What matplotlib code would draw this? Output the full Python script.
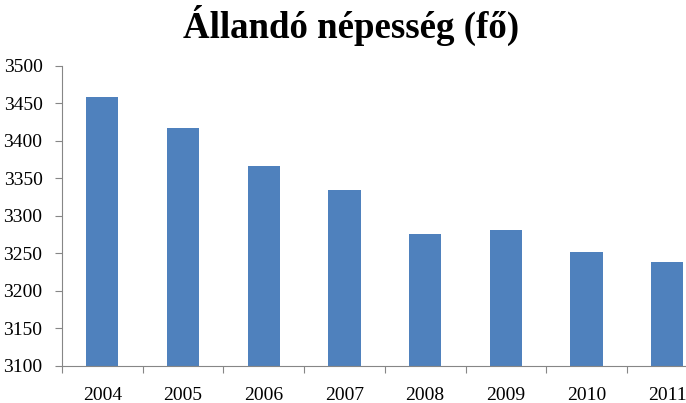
import matplotlib.pyplot as plt
import numpy as np

years = ['2004', '2005', '2006', '2007', '2008', '2009', '2010', '2011']
population = [3458, 3417, 3366, 3334, 3276, 3281, 3252, 3238]

plt.rcParams['font.family'] = ['Liberation Serif', 'DejaVu Serif']

fig = plt.figure(figsize=(6.86, 4.03), dpi=100)
# plot area runs past the right edge like in the original
ax = fig.add_axes([62 / 686, 1 - 366 / 403, 8 * 80.7 / 686, 300.5 / 403])

x = np.arange(len(years))
ax.bar(x, population, width=0.4, color='#4F81BD', zorder=2)

ax.set_ylim(3100, 3500)
ax.set_xlim(-0.5, len(years) - 0.5)
ax.set_yticks(np.arange(3100, 3501, 50))

# category boundaries get the tick marks, centers get the labels
ax.set_xticks(np.arange(-0.5, len(years), 1.0))
ax.set_xticklabels([])
ax.set_xticks(x, minor=True)
ax.set_xticklabels(years, minor=True)
ax.tick_params(axis='x', which='minor', length=0, pad=15, labelsize=14)
ax.tick_params(axis='x', which='major', length=5, color='#868686')
ax.tick_params(axis='y', length=5, color='#868686', labelsize=14, pad=9)

for s in ['top', 'right']:
    ax.spines[s].set_visible(False)
for s in ['left', 'bottom']:
    ax.spines[s].set_color('#868686')

fig.text(351.5 / 686, 1 - 37.5 / 403, 'Állandó népesség (fő)', ha='center',
         va='baseline', fontsize=26.6, fontweight='bold')

fig.savefig('out.png', dpi=100)
